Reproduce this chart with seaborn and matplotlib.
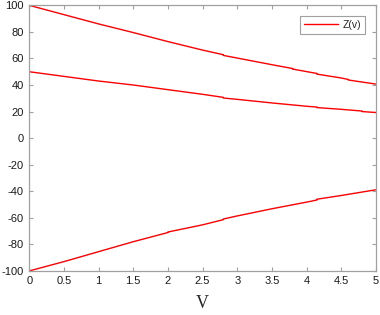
import pandas as pd
import seaborn as sns
import matplotlib.pyplot as plt

# --- Data (three branches of Z(v)) ---
v_upper = [0, 0.5, 1, 1.5, 2, 2.5, 2.8, 2.8, 3, 3.5, 3.8, 3.8, 4, 4.15, 4.15, 4.5, 4.6, 4.6, 5]
z_upper = [100, 93, 86, 79.5, 72.7, 66.3, 62.8, 62.3, 60.3, 55.3, 52.4, 52.0, 50.1, 48.7, 48.2, 45.3, 44.2, 43.8, 40.7]

v_middle = [0, 0.5, 1, 1.5, 2, 2.5, 2.8, 2.8, 3, 3.5, 4, 4.15, 4.15, 4.5, 4.8, 4.8, 5]
z_middle = [50, 46.5, 43, 40, 36.5, 33, 30.7, 30.2, 29.2, 26.5, 24.0, 23.4, 23.0, 21.7, 20.4, 20.0, 19.3]

v_lower = [0, 0.5, 1, 1.5, 2, 2, 2.5, 2.8, 2.8, 3, 3.5, 4, 4.15, 4.15, 4.5, 5]
z_lower = [-100, -93, -85.5, -78, -71.1, -70.7, -65.3, -61.4, -60.9, -58.6, -53.2, -48.2, -46.6, -46.0, -43.2, -38.9]

v_ticks = [0, 0.5, 1, 1.5, 2, 2.5, 3, 3.5, 4, 4.5, 5]
v_ticklabels = ["0", "0.5", "1", "1.5", "2", "2.5", "3", "3.5", "4", "4.5", "5"]
z_ticks = [-100, -80, -60, -40, -20, 0, 20, 40, 60, 80, 100]

LINE_COLOR = "#ff0000"
AXIS_COLOR = "#a0a0a0"


def build_frame(v, z, branch):
    return pd.DataFrame({"v": v, "z": z, "branch": branch})


def plot_z():
    sns.set_style("ticks")
    plt.rcParams["font.family"] = ["Liberation Sans", "DejaVu Sans"]
    plt.rcParams["axes.unicode_minus"] = False

    fig = plt.figure(figsize=(3.8, 3.15), dpi=100)
    ax = fig.add_axes([0.077, 0.140, 0.912, 0.843])

    branches = [
        build_frame(v_upper, z_upper, "upper"),
        build_frame(v_middle, z_middle, "middle"),
        build_frame(v_lower, z_lower, "lower"),
    ]
    for i, df in enumerate(branches):
        sns.lineplot(
            data=df, x="v", y="z", ax=ax, color=LINE_COLOR, linewidth=1.0,
            sort=False, estimator=None, label="Z(v)" if i == 0 else None,
        )

    ax.set_xlim(0, 5)
    ax.set_ylim(-100, 100)
    ax.set_xticks(v_ticks)
    ax.set_xticklabels(v_ticklabels)
    ax.set_yticks(z_ticks)
    ax.tick_params(direction="in", length=3, width=0.8, colors=AXIS_COLOR,
                   labelcolor="#1a1a1a", labelsize=8, top=True, right=True, pad=4)
    for side in ["top", "bottom", "left", "right"]:
        ax.spines[side].set_visible(True)
        ax.spines[side].set_color(AXIS_COLOR)
        ax.spines[side].set_linewidth(0.9)

    ax.set_xlabel("V", family="Liberation Serif", fontsize=13, labelpad=6)
    ax.set_ylabel("")

    leg = ax.legend(loc="upper right", bbox_to_anchor=(0.985, 0.98), fontsize=7.5,
                    fancybox=False, framealpha=1, edgecolor=AXIS_COLOR,
                    handlelength=3.3, borderpad=0.4, handletextpad=0.4)
    leg.get_frame().set_linewidth(0.8)

    fig.savefig("out.png", dpi=100)


if __name__ == "__main__":
    plot_z()
